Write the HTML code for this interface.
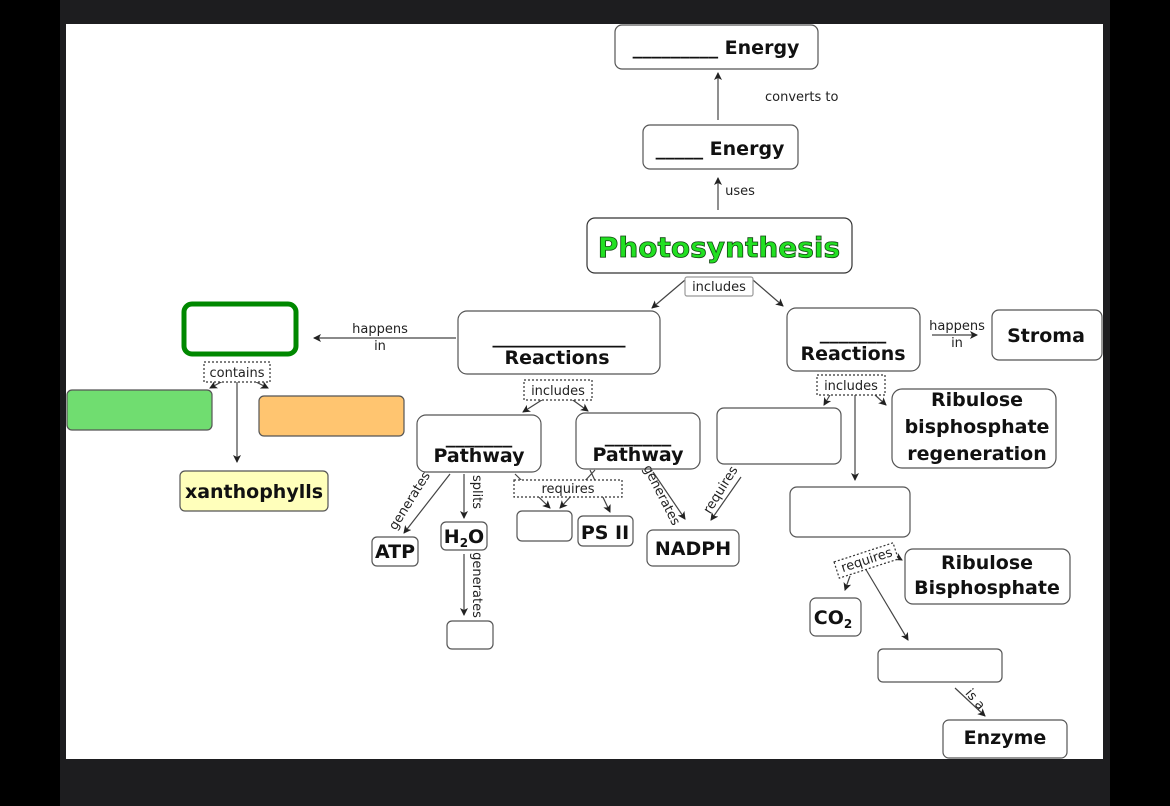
<!DOCTYPE html>
<html><head><meta charset="utf-8"><style>
html,body{margin:0;padding:0;background:#000;}
svg{display:block;font-family:"DejaVu Sans","Liberation Sans",sans-serif;}
</style></head><body>
<svg width="1170" height="806" viewBox="0 0 1170 806" xmlns="http://www.w3.org/2000/svg">
<defs>
<marker id="a" markerWidth="8" markerHeight="8" refX="7" refY="4" orient="auto" markerUnits="userSpaceOnUse">
<path d="M0,0 L8,4 L0,8 L2,4 z" fill="#222"/></marker>
</defs>
<rect x="0" y="0" width="1170" height="806" fill="#000"/>
<rect x="60" y="0" width="1050" height="806" fill="#1d1d1f"/>
<rect x="66" y="24" width="1037" height="735" fill="#fff"/>
<g stroke="#444" stroke-width="1.2" fill="none" marker-end="url(#a)">
<line x1="718" y1="120" x2="718" y2="73"/>
<line x1="718" y1="210" x2="718" y2="178"/>
<line x1="685" y1="280" x2="652" y2="308"/>
<line x1="753" y1="280" x2="783" y2="306"/>
<line x1="456" y1="338" x2="314" y2="338"/>
<line x1="932" y1="335" x2="977" y2="335"/>
<line x1="237" y1="382" x2="237" y2="462"/>
<line x1="225" y1="380" x2="210" y2="388"/>
<line x1="252" y1="380" x2="268" y2="388"/>
<line x1="545" y1="398" x2="523" y2="412"/>
<line x1="570" y1="398" x2="588" y2="411"/>
<line x1="450" y1="474" x2="404" y2="533"/>
<line x1="464" y1="474" x2="464" y2="518"/>
<line x1="464" y1="554" x2="464" y2="615"/>
<line x1="515" y1="474" x2="550" y2="508"/>
<line x1="595" y1="470" x2="560" y2="508"/>
<line x1="590" y1="470" x2="610" y2="512"/>
<line x1="653" y1="472" x2="685" y2="519"/>
<line x1="741" y1="477" x2="711" y2="520"/>
<line x1="855" y1="395" x2="855" y2="480"/>
<line x1="830" y1="395" x2="824" y2="405"/>
<line x1="875" y1="395" x2="886" y2="405"/>
<line x1="865" y1="568" x2="908" y2="640"/>
<line x1="850" y1="576" x2="845" y2="590"/>
<line x1="895" y1="556" x2="902" y2="560"/>
<line x1="955" y1="688" x2="985" y2="716"/>
</g>
<g stroke="#555" stroke-width="1.2" fill="#fff">
<rect x="615" y="25" width="203" height="44" rx="7"/>
<rect x="643" y="125" width="155" height="44" rx="7"/>
<rect x="587" y="218" width="265" height="55" rx="8" stroke="#333"/>
<rect x="685" y="277" width="68" height="19" rx="2" stroke="#999"/>
<rect x="458" y="311" width="202" height="63" rx="9"/>
<rect x="787" y="308" width="133" height="63" rx="9"/>
<rect x="992" y="310" width="110" height="50" rx="7"/>
<rect x="184" y="304" width="112" height="50" rx="8" stroke="#008800" stroke-width="5"/>
<rect x="67" y="390" width="145" height="40" rx="5" fill="#70dd70"/>
<rect x="259" y="396" width="145" height="40" rx="5" fill="#ffc570"/>
<rect x="180" y="471" width="148" height="40" rx="5" fill="#ffffbb"/>
<rect x="417" y="415" width="124" height="57" rx="9"/>
<rect x="576" y="413" width="124" height="56" rx="9"/>
<rect x="517" y="511" width="55" height="30" rx="5"/>
<rect x="578" y="516" width="55" height="30" rx="5"/>
<rect x="372" y="537" width="46" height="29" rx="5"/>
<rect x="441" y="522" width="46" height="28" rx="5"/>
<rect x="447" y="621" width="46" height="28" rx="5"/>
<rect x="647" y="530" width="92" height="36" rx="6"/>
<rect x="717" y="408" width="124" height="56" rx="7"/>
<rect x="892" y="389" width="164" height="79" rx="10"/>
<rect x="790" y="487" width="120" height="50" rx="7"/>
<rect x="905" y="549" width="165" height="55" rx="8"/>
<rect x="810" y="598" width="51" height="38" rx="6"/>
<rect x="878" y="649" width="124" height="33" rx="5"/>
<rect x="943" y="720" width="124" height="38" rx="6"/>
</g>
<g stroke="#333" stroke-width="1.2" stroke-dasharray="2,2" fill="#fff">
<rect x="204" y="362" width="66" height="20"/>
<rect x="524" y="380" width="68" height="20"/>
<rect x="514" y="480" width="108" height="17"/>
<rect x="817" y="375" width="68" height="20"/>
<rect x="835" y="552" width="62" height="17" transform="rotate(-18 866 560)"/>
</g>
<g font-weight="bold" fill="#111" font-size="19" text-anchor="middle">
<text x="716" y="54">_________ Energy</text>
<text x="720" y="155">_____ Energy</text>
<text x="559" y="343">______________</text>
<text x="557" y="364">Reactions</text>
<text x="853" y="339">_______</text>
<text x="853" y="360">Reactions</text>
<text x="1046" y="342">Stroma</text>
<text x="254" y="498">xanthophylls</text>
<text x="479" y="443">_______</text>
<text x="479" y="462">Pathway</text>
<text x="638" y="442">_______</text>
<text x="638" y="461">Pathway</text>
<text x="605" y="539">PS II</text>
<text x="395" y="558">ATP</text>
<text x="464" y="543">H<tspan font-size="12" dy="4">2</tspan><tspan dy="-4">O</tspan></text>
<text x="693" y="555">NADPH</text>
<text x="977" y="406">Ribulose</text>
<text x="977" y="433">bisphosphate</text>
<text x="977" y="460">regeneration</text>
<text x="987" y="569">Ribulose</text>
<text x="987" y="594">Bisphosphate</text>
<text x="833" y="624">CO<tspan font-size="12" dy="4">2</tspan></text>
<text x="1005" y="744">Enzyme</text>
<text x="719" y="257" font-size="28" fill="#22e022" stroke="#114411" stroke-width="0.8">Photosynthesis</text>
</g>
<g fill="#222" font-size="13" text-anchor="middle">
<text x="765" y="101" text-anchor="start">converts to</text>
<text x="740" y="195">uses</text>
<text x="719" y="291">includes</text>
<text x="380" y="333">happens</text>
<text x="380" y="350">in</text>
<text x="957" y="330">happens</text>
<text x="957" y="347">in</text>
<text x="237" y="377">contains</text>
<text x="558" y="395">includes</text>
<text x="851" y="390">includes</text>
<text x="568" y="493">requires</text>
<text transform="translate(413,503) rotate(-58)">generates</text>
<text transform="translate(473,492) rotate(90)">splits</text>
<text transform="translate(473,585) rotate(90)">generates</text>
<text transform="translate(658,497) rotate(63)">generates</text>
<text transform="translate(724,492) rotate(-58)">requires</text>
<text transform="translate(868,564) rotate(-18)">requires</text>
<text transform="translate(972,702) rotate(50)">is a</text>
</g>
</svg>
</body></html>
